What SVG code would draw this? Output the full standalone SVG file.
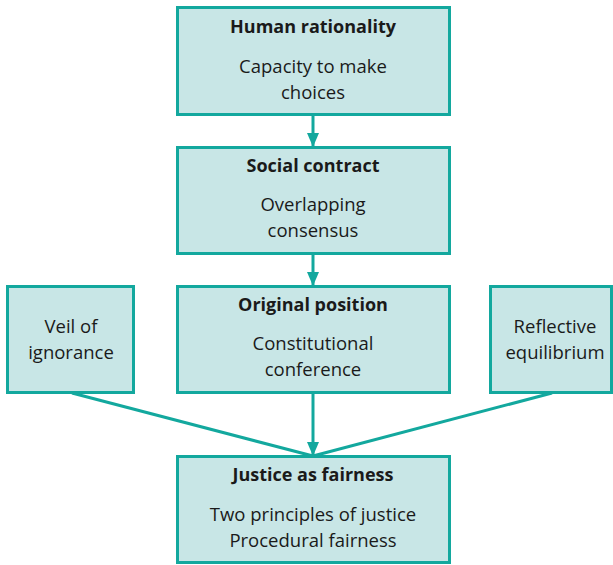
<svg xmlns="http://www.w3.org/2000/svg" width="613" height="565" viewBox="0 0 613 565">
<style>
.box{fill:#c8e6e6;stroke:#13a89e;stroke-width:3}
.t{font-family:"Open Sans","Liberation Sans",sans-serif;font-size:18.5px;fill:#1a1a1a;text-anchor:middle}
.b{font-weight:bold;font-size:18px}
.c{stroke:#13a89e;stroke-width:3;fill:none}
</style>
<defs>
<marker id="ah" markerWidth="14" markerHeight="12" refX="14" refY="6" orient="auto" markerUnits="userSpaceOnUse" viewBox="0 0 14 12">
<path d="M0,0 L14,6 L0,12 z" fill="#13a89e"/>
</marker>
</defs>
<g id="connectors">
<line class="c" x1="313" y1="115" x2="313" y2="147" marker-end="url(#ah)"/>
<line class="c" x1="313" y1="253" x2="313" y2="286" marker-end="url(#ah)"/>
<line class="c" x1="313" y1="393" x2="313" y2="456" marker-end="url(#ah)"/>
<line class="c" x1="72" y1="393" x2="313" y2="456"/>
<line class="c" x1="552" y1="393" x2="313" y2="456"/>
</g>
<g id="human">
<rect class="box" x="177.5" y="7.5" width="272" height="107"/>
<text class="t b" x="313" y="33">Human rationality</text>
<text class="t" x="313" y="73">Capacity to make</text>
<text class="t" x="313" y="99">choices</text>
</g>
<g id="social">
<rect class="box" x="177.5" y="147.5" width="272" height="106"/>
<text class="t b" x="313" y="172">Social contract</text>
<text class="t" x="313" y="211">Overlapping</text>
<text class="t" x="313" y="237">consensus</text>
</g>
<g id="original">
<rect class="box" x="177.5" y="286.5" width="272" height="106"/>
<text class="t b" x="313" y="311">Original position</text>
<text class="t" x="313" y="350">Constitutional</text>
<text class="t" x="313" y="376">conference</text>
</g>
<g id="veil">
<rect class="box" x="7.5" y="286.5" width="126" height="106"/>
<text class="t" x="71" y="333">Veil of</text>
<text class="t" x="71" y="359">ignorance</text>
</g>
<g id="reflective">
<rect class="box" x="490.5" y="286.5" width="121" height="106"/>
<text class="t" x="555" y="333">Reflective</text>
<text class="t" x="555" y="359">equilibrium</text>
</g>
<g id="justice">
<rect class="box" x="177.5" y="456.5" width="272" height="106"/>
<text class="t b" x="313" y="481">Justice as fairness</text>
<text class="t" x="313" y="521">Two principles of justice</text>
<text class="t" x="313" y="547">Procedural fairness</text>
</g>
</svg>
